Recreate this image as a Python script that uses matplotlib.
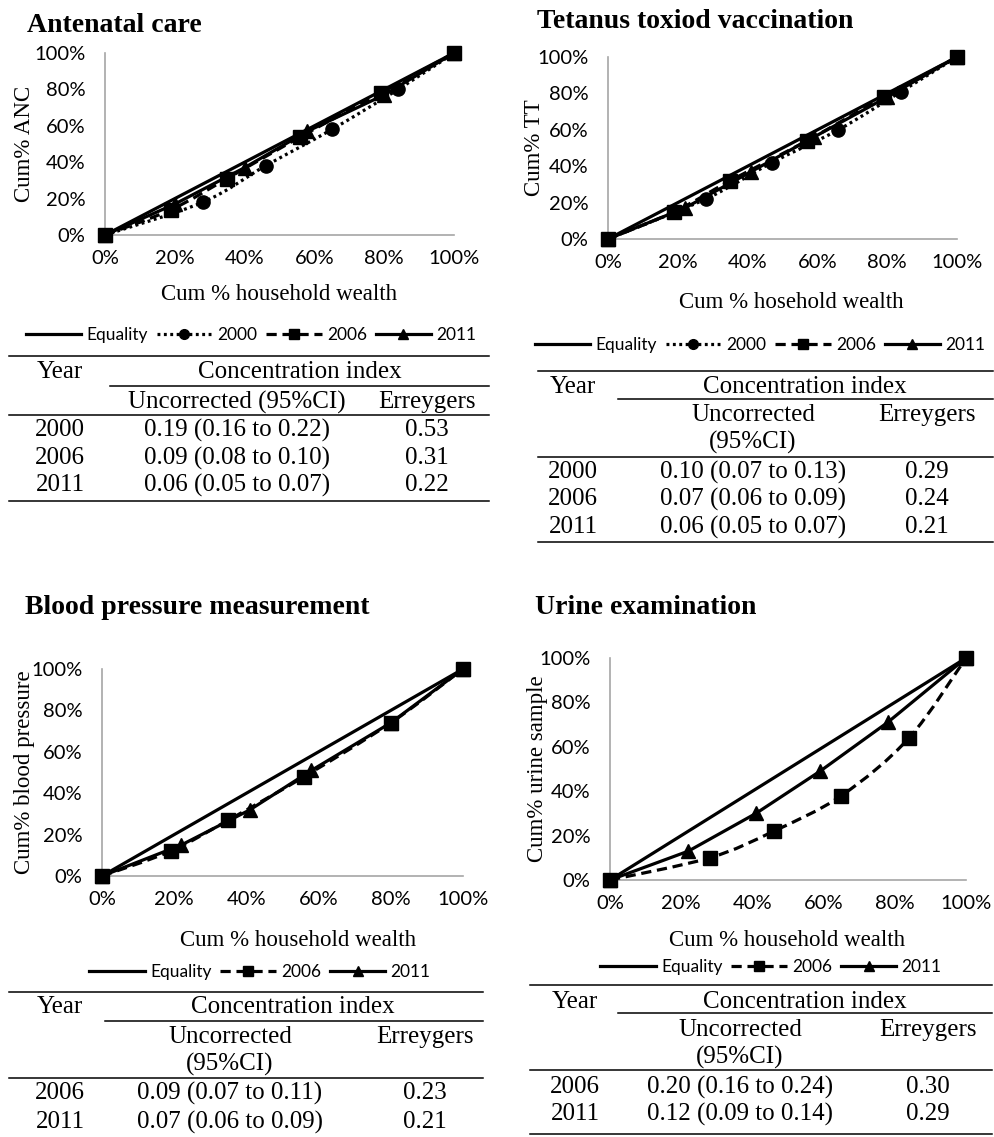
import matplotlib
matplotlib.use("Agg")
import matplotlib.pyplot as plt
from matplotlib.lines import Line2D
from matplotlib.path import Path
from matplotlib.patches import PathPatch
import numpy as np

# ---------------- data ----------------
anc_x2000 = [0, 0.28, 0.46, 0.65, 0.84, 1]
anc_y2000 = [0, 0.18, 0.38, 0.58, 0.80, 1]
anc_x2006 = [0, 0.19, 0.35, 0.56, 0.79, 1]
anc_y2006 = [0, 0.14, 0.31, 0.54, 0.78, 1]
anc_x2011 = [0, 0.20, 0.40, 0.58, 0.80, 1]
anc_y2011 = [0, 0.17, 0.37, 0.57, 0.77, 1]

tt_x2000 = [0, 0.28, 0.47, 0.66, 0.84, 1]
tt_y2000 = [0, 0.22, 0.42, 0.60, 0.81, 1]
tt_x2006 = [0, 0.19, 0.35, 0.57, 0.79, 1]
tt_y2006 = [0, 0.15, 0.32, 0.54, 0.78, 1]
tt_x2011 = [0, 0.22, 0.41, 0.59, 0.80, 1]
tt_y2011 = [0, 0.17, 0.37, 0.56, 0.78, 1]

bp_x2006 = [0, 0.19, 0.35, 0.56, 0.80, 1]
bp_y2006 = [0, 0.12, 0.27, 0.48, 0.74, 1]
bp_x2011 = [0, 0.22, 0.41, 0.58, 0.80, 1]
bp_y2011 = [0, 0.15, 0.32, 0.51, 0.74, 1]

ur_x2006 = [0, 0.28, 0.46, 0.65, 0.84, 1]
ur_y2006 = [0, 0.10, 0.22, 0.38, 0.64, 1]
ur_x2011 = [0, 0.22, 0.41, 0.59, 0.78, 1]
ur_y2011 = [0, 0.13, 0.30, 0.49, 0.71, 1]

equality = [0, 1]
tick_vals = [0, 0.2, 0.4, 0.6, 0.8, 1.0]
tick_labels = ["0%", "20%", "40%", "60%", "80%", "100%"]

titles = ["Antenatal care", "Tetanus toxiod vaccination",
          "Blood pressure measurement", "Urine examination"]
ylabels = ["Cum% ANC", "Cum% TT", "Cum% blood pressure", "Cum% urine sample"]
xlabels = ["Cum % household wealth", "Cum % hosehold wealth",
           "Cum % household wealth", "Cum % household wealth"]

anc_years = ["2000", "2006", "2011"]
anc_unc = ["0.19 (0.16 to 0.22)", "0.09 (0.08 to 0.10)", "0.06 (0.05 to 0.07)"]
anc_err = ["0.53", "0.31", "0.22"]
tt_years = ["2000", "2006", "2011"]
tt_unc = ["0.10 (0.07 to 0.13)", "0.07 (0.06 to 0.09)", "0.06 (0.05 to 0.07)"]
tt_err = ["0.29", "0.24", "0.21"]
bp_years = ["2006", "2011"]
bp_unc = ["0.09 (0.07 to 0.11)", "0.07 (0.06 to 0.09)"]
bp_err = ["0.23", "0.21"]
ur_years = ["2006", "2011"]
ur_unc = ["0.20 (0.16 to 0.24)", "0.12 (0.09 to 0.14)"]
ur_err = ["0.30", "0.29"]

# ---------------- style ----------------
SERIF = "Liberation Serif"
SANS = "Lato"
W, H = 995, 1137
fig = plt.figure(figsize=(W / 100, H / 100), dpi=100)
fig.patch.set_facecolor("white")

ov = fig.add_axes([0, 0, 1, 1])
ov.set_xlim(0, W)
ov.set_ylim(H, 0)
ov.axis("off")

LW = 2.3
STY = {
    "2000": dict(ls=(0, (0.9, 1.1)), marker="o", ms=9.5),
    "2006": dict(ls=(0, (3.2, 1.8)), marker="s", ms=10.5),
    "2011": dict(ls="-", marker="^", ms=9.5),
}
ZO = {"2000": 3, "2011": 4, "2006": 5}
SMOOTH = {"2000": True, "2006": True, "2011": False}


def smooth_path(x, y):
    pts = np.column_stack([x, y]).astype(float)
    n = len(pts)
    verts = [pts[0]]
    codes = [Path.MOVETO]
    for i in range(n - 1):
        p0 = pts[max(i - 1, 0)]
        p1 = pts[i]
        p2 = pts[i + 1]
        p3 = pts[min(i + 2, n - 1)]
        c1 = p1 + (p2 - p0) / 6.0
        c2 = p2 - (p3 - p1) / 6.0
        verts += [c1, c2, p2]
        codes += [Path.CURVE4] * 3
    return Path(verts, codes)


def axes_px(l, t, r, b):
    return fig.add_axes([l / W, 1 - b / H, (r - l) / W, (b - t) / H])


def draw_panel(ax, series):
    ax.set_facecolor("none")
    ax.plot(equality, equality, color="black", lw=LW, solid_capstyle="butt",
            zorder=2, clip_on=False)
    for yr, xs, ys in series:
        st = STY[yr]
        if SMOOTH[yr]:
            patch = PathPatch(smooth_path(xs, ys), fill=False, edgecolor="black",
                              lw=LW, linestyle=st["ls"], zorder=ZO[yr],
                              clip_on=False)
            ax.add_patch(patch)
        else:
            ax.plot(xs, ys, color="black", lw=LW, ls=st["ls"], zorder=ZO[yr],
                    clip_on=False)
        ax.plot(xs, ys, ls="none", marker=st["marker"], ms=st["ms"],
                color="black", zorder=ZO[yr] + 0.5, clip_on=False)
    ax.set_xlim(0, 1)
    ax.set_ylim(0, 1)
    ax.set_xticks(tick_vals)
    ax.set_xticklabels(tick_labels, fontfamily=SANS, fontsize=14.5)
    ax.set_yticks(tick_vals)
    ax.set_yticklabels(tick_labels, fontfamily=SANS, fontsize=14.5)
    ax.tick_params(length=0)
    ax.tick_params(axis="y", pad=14)
    ax.tick_params(axis="x", pad=11)
    for s in ["top", "right"]:
        ax.spines[s].set_visible(False)
    for s in ["left", "bottom"]:
        ax.spines[s].set_color("#a6a6a6")
        ax.spines[s].set_linewidth(1.2)


def legend_handles(years):
    hs = [Line2D([], [], color="black", lw=LW)]
    labs = ["Equality"]
    for yr in years:
        st = STY[yr]
        hs.append(Line2D([], [], color="black", lw=LW, ls=st["ls"],
                         marker=st["marker"], ms=7))
        labs.append(yr)
    return hs, labs


def add_legend(years, cx, cy):
    hs, labs = legend_handles(years)
    fig.legend(hs, labs, loc="center", bbox_to_anchor=(cx / W, 1 - cy / H),
               ncol=len(labs), frameon=False, handlelength=3.2,
               handletextpad=0.3, columnspacing=0.5,
               prop={"family": SANS, "size": 12.5})


def hline(x0, x1, y):
    ov.plot([x0, x1], [y, y], color="black", lw=1.1)


def tt(x, y, s, ha="center", size=18, **kw):
    ov.text(x, y, s, ha=ha, va="center", fontfamily=SERIF, fontsize=size, **kw)


def draw_table(L, R, sub_l, y_top, y_sub, y_hdr, y_bot, x_year, x_ci, x_unc,
               x_err, y_row1, y_unc1, unc_two_lines, y_rows, years, unc, err):
    hline(L, R, y_top)
    hline(sub_l, R, y_sub)
    hline(L, R, y_hdr)
    if y_bot is not None:
        hline(L, R, y_bot)
    tt(x_year, y_row1, "Year")
    tt(x_ci, y_row1, "Concentration index")
    if unc_two_lines:
        tt(x_unc, y_unc1, "Uncorrected")
        tt(x_unc, y_unc1 + 27.5, "(95%CI)")
    else:
        tt(x_unc, y_unc1, "Uncorrected (95%CI)")
    tt(x_err, y_unc1, "Erreygers")
    for yy, a, b, c in zip(y_rows, years, unc, err):
        tt(x_year, yy, a)
        tt(x_unc, yy, b)
        tt(x_err, yy, c)


# ---------------- panel 1: ANC ----------------
ax1 = axes_px(105, 53, 454, 235)
draw_panel(ax1, [("2000", anc_x2000, anc_y2000), ("2006", anc_x2006, anc_y2006),
                 ("2011", anc_x2011, anc_y2011)])
ov.text(27, 25, titles[0], ha="left", va="center", fontfamily=SERIF,
        fontweight="bold", fontsize=20)
ov.text(25, 144, ylabels[0], rotation=90, ha="center", va="center",
        fontfamily=SERIF, fontsize=16.5)
ov.text(279, 295, xlabels[0], ha="center", va="center", fontfamily=SERIF,
        fontsize=16.5)
add_legend(["2000", "2006", "2011"], 251, 335)
draw_table(9, 489, 110, 356, 386, 415, 501, 60, 300, 237, 427, 372, 402, False,
           [430, 458, 485], anc_years, anc_unc, anc_err)

# ---------------- panel 2: TT ----------------
ax2 = axes_px(608, 57, 957, 239)
draw_panel(ax2, [("2000", tt_x2000, tt_y2000), ("2006", tt_x2006, tt_y2006),
                 ("2011", tt_x2011, tt_y2011)])
ov.text(537, 22, titles[1], ha="left", va="center", fontfamily=SERIF,
        fontweight="bold", fontsize=20)
ov.text(535, 148, ylabels[1], rotation=90, ha="center", va="center",
        fontfamily=SERIF, fontsize=16.5)
ov.text(791, 303, xlabels[1], ha="center", va="center", fontfamily=SERIF,
        fontsize=16.5)
add_legend(["2000", "2006", "2011"], 760, 345)
draw_table(538, 993, 618, 371, 399, 457, 542, 573, 805, 753, 927, 387, 415, True,
           [472, 499, 527], tt_years, tt_unc, tt_err)

# ---------------- panel 3: BP ----------------
ax3 = axes_px(102, 669, 463, 876)
draw_panel(ax3, [("2006", bp_x2006, bp_y2006), ("2011", bp_x2011, bp_y2011)])
ov.text(25, 608, titles[2], ha="left", va="center", fontfamily=SERIF,
        fontweight="bold", fontsize=20)
ov.text(25, 772, ylabels[2], rotation=90, ha="center", va="center",
        fontfamily=SERIF, fontsize=16.5)
ov.text(298, 940, xlabels[2], ha="center", va="center", fontfamily=SERIF,
        fontsize=16.5)
add_legend(["2006", "2011"], 260, 972)
draw_table(9, 483, 105, 992, 1021, 1078, None, 60, 293, 230, 425, 1007, 1037, True,
           [1093, 1122], bp_years, bp_unc, bp_err)

# ---------------- panel 4: Urine ----------------
ax4 = axes_px(610, 658, 966, 880)
draw_panel(ax4, [("2006", ur_x2006, ur_y2006), ("2011", ur_x2011, ur_y2011)])
ov.text(535, 607, titles[3], ha="left", va="center", fontfamily=SERIF,
        fontweight="bold", fontsize=20)
ov.text(537, 769, ylabels[3], rotation=90, ha="center", va="center",
        fontfamily=SERIF, fontsize=16.5)
ov.text(787, 940, xlabels[3], ha="center", va="center", fontfamily=SERIF,
        fontsize=16.5)
add_legend(["2006", "2011"], 771, 967)
draw_table(530, 992, 618, 985, 1013, 1070, 1134, 575, 805, 740, 928, 1002, 1030, True,
           [1087, 1114], ur_years, ur_unc, ur_err)

fig.savefig("out.png", dpi=100)
